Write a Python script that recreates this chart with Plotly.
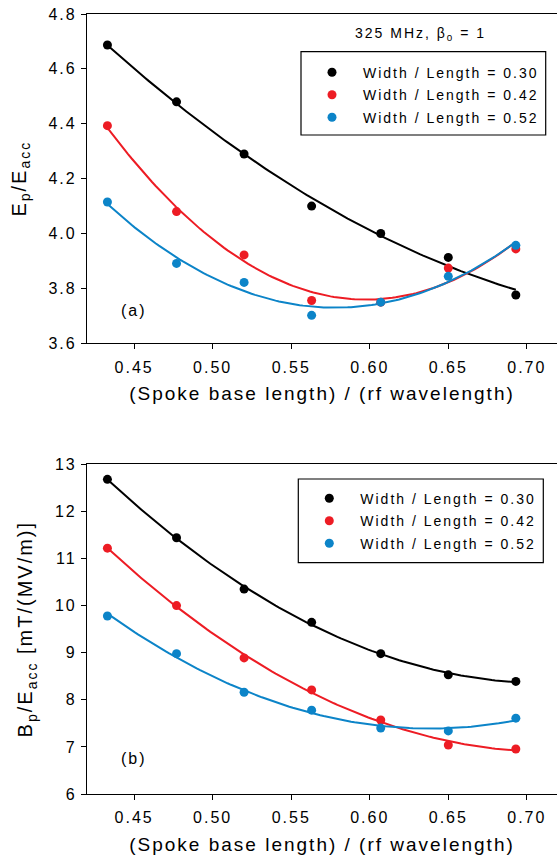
import numpy as np
import plotly.graph_objects as go

# ---------------- data ----------------
ratio = [0.433, 0.477, 0.520, 0.563, 0.607, 0.650, 0.693]
series_names = ["Width / Length = 0.30", "Width / Length = 0.42", "Width / Length = 0.52"]

ep_030 = [4.687, 4.480, 4.290, 4.100, 4.000, 3.913, 3.776]
ep_042 = [4.393, 4.080, 3.922, 3.756, 3.750, 3.874, 3.944]
ep_052 = [4.115, 3.891, 3.822, 3.702, 3.750, 3.844, 3.957]

bp_030 = [12.68, 11.44, 10.35, 9.645, 8.98, 8.53, 8.39]
bp_042 = [11.22, 10.00, 8.89, 8.21, 7.57, 7.04, 6.955]
bp_052 = [9.78, 8.98, 8.16, 7.78, 7.40, 7.34, 7.61]

x_ticks = [0.45, 0.50, 0.55, 0.60, 0.65, 0.70]
ep_ticks = [3.6, 3.8, 4.0, 4.2, 4.4, 4.6, 4.8]
bp_ticks = [6, 7, 8, 9, 10, 11, 12, 13]

colors = ["#000000", "#ED1C24", "#0C84C8"]
FONT = "Liberation Sans, Arial, Helvetica, sans-serif"

W, H = 557, 867
L = 87


def pxx(p):
    return (p - L) / (W - L)


def pxy(p):
    return (H - p) / H


fig = go.Figure()

xfit = np.linspace(min(ratio), max(ratio), 120)

panels = [
    ([ep_030, ep_042, ep_052], "x", "y", "legend"),
    ([bp_030, bp_042, bp_052], "x2", "y2", "legend2"),
]

for vals, xa, ya, lg in panels:
    # fitted curves (quadratic regression of the data)
    for v, c in zip(vals, colors):
        coef = np.polyfit(ratio, v, 2)
        fig.add_trace(go.Scatter(x=xfit, y=np.polyval(coef, xfit), mode="lines",
                                 line=dict(color=c, width=2), showlegend=False,
                                 hoverinfo="skip", xaxis=xa, yaxis=ya))
    for i, (v, c, n) in enumerate(zip(vals, colors, series_names)):
        fig.add_trace(go.Scatter(x=ratio, y=v, mode="markers", name=n,
                                 marker=dict(color=c, size=9, line=dict(width=0)),
                                 xaxis=xa, yaxis=ya, legend=lg,
                                 legendgroup=lg + str(i)))

axis_common = dict(
    showline=True, linecolor="black", linewidth=1.2, mirror=False,
    ticks="outside", ticklen=5, tickwidth=1.2, tickcolor="black",
    showgrid=False, zeroline=False, automargin=False,
    tickfont=dict(family=FONT, size=16, color="black"),
)

xcommon = dict(axis_common, range=[0.42, 0.7192], tickvals=x_ticks,
               tickformat=".2f", ticklabelstandoff=4, mirror=True)

fig.update_layout(
    width=W, height=H,
    margin=dict(l=L, r=0, t=0, b=0, autoexpand=False),
    paper_bgcolor="white", plot_bgcolor="white",
    font=dict(family=FONT, color="black"),
    xaxis=dict(xcommon, domain=[0, 1], anchor="y",
               title=dict(text="(Spoke base length) / (rf wavelength)",
                          font=dict(family=FONT, size=19), standoff=12)),
    yaxis=dict(axis_common, domain=[pxy(343.3), pxy(14)], anchor="x",
               range=[3.6, 4.8], tickvals=ep_ticks, tickformat=".1f",
               ticklabelstandoff=1,
               title=dict(text="E<sub>p</sub>/E<sub>acc</sub>",
                          font=dict(family=FONT, size=20), standoff=22)),
    xaxis2=dict(xcommon, domain=[0, 1], anchor="y2",
                title=dict(text="(Spoke base length) / (rf wavelength)",
                           font=dict(family=FONT, size=19), standoff=12)),
    yaxis2=dict(axis_common, domain=[pxy(794), pxy(464.3)], anchor="x2",
                range=[6, 13], tickvals=bp_ticks, ticklabelstandoff=1,
                title=dict(text="B<sub>p</sub>/E<sub>acc</sub> [mT/(MV/m)]",
                           font=dict(family=FONT, size=20), standoff=20)),
    legend=dict(x=pxx(301), y=pxy(56.7), xanchor="left", yanchor="top",
                bgcolor="rgba(0,0,0,0)", borderwidth=0, itemwidth=52,
                tracegroupgap=1.3, font=dict(family=FONT, size=14, color="black")),
    legend2=dict(x=pxx(298.3), y=pxy(482.7), xanchor="left", yanchor="top",
                 bgcolor="rgba(0,0,0,0)", borderwidth=0, itemwidth=52,
                 tracegroupgap=1.3, font=dict(family=FONT, size=14, color="black")),
    shapes=[
        dict(type="rect", xref="paper", yref="paper",
             x0=pxx(301), x1=pxx(545.7), y0=pxy(135), y1=pxy(51.7),
             line=dict(color="black", width=1.2), fillcolor="rgba(0,0,0,0)"),
        dict(type="rect", xref="paper", yref="paper",
             x0=pxx(298.3), x1=pxx(543.3), y0=pxy(562.7), y1=pxy(479),
             line=dict(color="black", width=1.2), fillcolor="rgba(0,0,0,0)"),
    ],
    annotations=[
        dict(text="325 MHz, β<sub>0</sub> = 1", xref="paper", yref="paper",
             x=pxx(420), y=pxy(34), xanchor="center", yanchor="middle",
             showarrow=False, font=dict(family=FONT, size=14, color="black")),
        dict(text="(a)", xref="x", yref="y", x=0.45, y=3.72,
             xanchor="center", yanchor="middle", showarrow=False,
             font=dict(family=FONT, size=16, color="black")),
        dict(text="(b)", xref="x2", yref="y2", x=0.45, y=6.76,
             xanchor="center", yanchor="middle", showarrow=False,
             font=dict(family=FONT, size=16, color="black")),
    ],
)

# page without body margin; tracked (letter-spaced) lettering as in the original
post = """
document.body.style.margin='0';
var s=document.createElement('style');
s.textContent='.main-svg text{letter-spacing:2px;}';
document.head.appendChild(s);
document.querySelectorAll('.infolayer [clip-path]').forEach(function(e){e.removeAttribute('clip-path');});
"""

fig.write_html("out.html", post_script=post, config={"displayModeBar": False})
